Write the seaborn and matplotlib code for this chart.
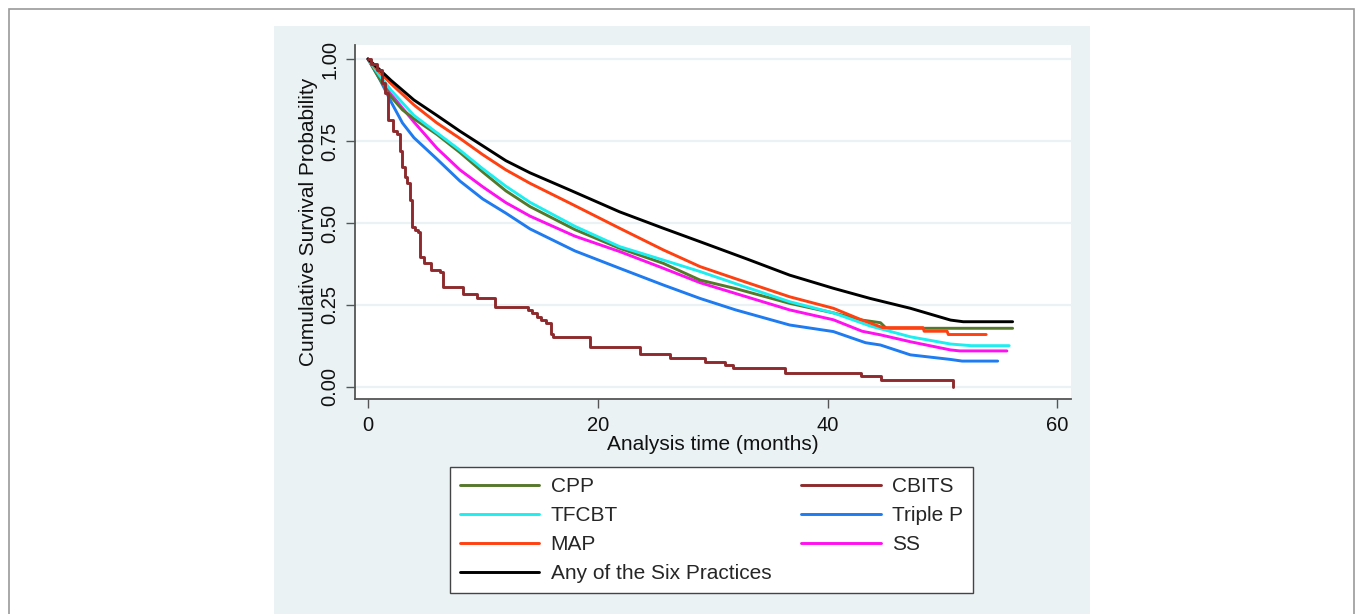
import matplotlib
matplotlib.use('Agg')
import pandas as pd
import matplotlib.pyplot as plt
import seaborn as sns
from matplotlib.lines import Line2D
from matplotlib.patches import Rectangle

# Kaplan-Meier curves (time in months, survival probability)
cpp_t = [0, 1, 2, 3, 4, 6, 8, 10, 12, 14.1, 18, 21.9, 25.7, 28.9, 32, 36.7, 40.5, 43, 44.6, 45.1, 56.1]
cpp_s = [1.0, 0.94, 0.885, 0.845, 0.818, 0.77, 0.715, 0.655, 0.598, 0.55, 0.48, 0.423, 0.377, 0.326, 0.30, 0.255, 0.226, 0.204, 0.196, 0.179, 0.179]

tfcbt_t = [0, 1, 2, 4, 6, 8, 10, 12, 14.1, 18, 21.9, 25.7, 28.9, 32, 36.7, 40.5, 43.7, 47.2, 50.7, 52.5, 55.8]
tfcbt_s = [1.0, 0.95, 0.905, 0.828, 0.775, 0.722, 0.665, 0.612, 0.563, 0.49, 0.428, 0.387, 0.352, 0.315, 0.26, 0.226, 0.186, 0.153, 0.131, 0.126, 0.126]

map_t = [0, 1, 2, 4, 6, 8, 10, 12, 14.1, 17.6, 21.9, 25.7, 28.9, 32, 36.7, 40.5, 43, 44.8, 48.3, 48.4, 50.4, 50.5, 53.8]
map_s = [1.0, 0.96, 0.925, 0.86, 0.805, 0.758, 0.708, 0.662, 0.621, 0.56, 0.484, 0.418, 0.367, 0.33, 0.275, 0.24, 0.204, 0.181, 0.181, 0.17, 0.17, 0.16, 0.16]

any_t = [0, 1, 2, 4, 6, 8, 10, 12, 14.1, 17.6, 21.9, 25.7, 28.9, 33, 36.7, 40.5, 43.7, 47.2, 50.7, 51.8, 56.1]
any_s = [1.0, 0.968, 0.935, 0.875, 0.828, 0.78, 0.735, 0.69, 0.653, 0.60, 0.534, 0.484, 0.443, 0.39, 0.341, 0.301, 0.27, 0.24, 0.204, 0.199, 0.199]

ss_t = [0, 1, 2, 4, 6, 8, 10, 12, 14.1, 18, 21.9, 25.7, 28.9, 32, 36.7, 40.5, 43, 44.6, 47.2, 50.7, 51.5, 55.6]
ss_s = [1.0, 0.95, 0.893, 0.808, 0.728, 0.662, 0.61, 0.562, 0.521, 0.46, 0.413, 0.362, 0.318, 0.285, 0.235, 0.205, 0.17, 0.159, 0.138, 0.113, 0.11, 0.11]

tp_t = [0, 1, 2, 3, 4, 6, 8, 10, 12, 14.1, 18, 21.9, 25.7, 28.9, 32, 36.7, 40.5, 43.3, 44.6, 47.2, 50.7, 51.7, 54.8]
tp_s = [1.0, 0.94, 0.87, 0.805, 0.76, 0.695, 0.628, 0.573, 0.53, 0.482, 0.415, 0.362, 0.311, 0.27, 0.235, 0.189, 0.169, 0.135, 0.128, 0.098, 0.084, 0.079, 0.079]

cbits_t = [0, 0.3, 0.75, 1.2, 1.5, 1.77, 2.2, 2.5, 2.8, 2.93, 3.2, 3.37, 3.65, 3.8, 4.1, 4.38, 4.5, 4.9, 5.5, 6.27,
           6.5, 8.3, 9.45, 11.05, 13.95, 14.3, 14.7, 15.1, 15.5, 15.9, 16.1, 19.3, 23.7, 26.3, 29.3, 31.1, 31.8, 36.3,
           42.9, 44.65, 50.9]
cbits_s = [1.0, 0.985, 0.966, 0.926, 0.895, 0.814, 0.78, 0.77, 0.72, 0.672, 0.64, 0.621, 0.57, 0.489, 0.48, 0.474, 0.397,
           0.377, 0.357, 0.352, 0.306, 0.285, 0.272, 0.245, 0.235, 0.225, 0.214, 0.204, 0.194, 0.163, 0.153, 0.121, 0.1,
           0.089, 0.077, 0.067, 0.057, 0.044, 0.035, 0.021, 0.0]

colors = {
    'CPP': '#55782A',
    'CBITS': '#8E2A2E',
    'TFCBT': '#1EEEF0',
    'Triple P': '#1E7BF0',
    'MAP': '#FF4010',
    'SS': '#FF10F0',
    'Any of the Six Practices': '#000000',
}

# Build long table for the smooth curves
smooth = [('CPP', cpp_t, cpp_s), ('TFCBT', tfcbt_t, tfcbt_s), ('MAP', map_t, map_s),
          ('Triple P', tp_t, tp_s), ('SS', ss_t, ss_s), ('Any of the Six Practices', any_t, any_s)]
frames = [pd.DataFrame({'time': t, 'surv': s, 'group': g}) for g, t, s in smooth]
df = pd.concat(frames, ignore_index=True)
df_cbits = pd.DataFrame({'time': cbits_t, 'surv': cbits_s, 'group': 'CBITS'})

sns.set_theme(style='white')
plt.rcParams['font.family'] = ['Liberation Sans', 'DejaVu Sans']

W, H = 1357, 614
fig = plt.figure(figsize=(W / 100, H / 100), dpi=100, facecolor='white')

# Stata-like graph region background and outer frame
fig.patches.append(Rectangle((274 / W, 0), (1090 - 274) / W, (614 - 26) / H, transform=fig.transFigure,
                             facecolor='#EAF2F3', edgecolor='none', zorder=-10))
fig.patches.append(Rectangle((9 / W, -0.05), (1354 - 9) / W, (614 - 9) / H + 0.05, transform=fig.transFigure,
                             facecolor='none', edgecolor='#9A9A9A', lw=1.2, zorder=-5))

ax = fig.add_axes([355 / W, (614 - 399) / H, (1071 - 355) / W, (399 - 45) / H])
ax.set_facecolor('white')

for g in ['Triple P', 'SS', 'CPP', 'TFCBT', 'MAP', 'Any of the Six Practices']:
    sns.lineplot(data=df[df['group'] == g], x='time', y='surv', color=colors[g], lw=2.1,
                 estimator=None, sort=False, ax=ax, legend=False)
sns.lineplot(data=df_cbits, x='time', y='surv', color=colors['CBITS'], lw=2.1,
             estimator=None, sort=False, drawstyle='steps-post', ax=ax, legend=False)

ax.set_xlim(-1.13, 61.18)
ax.set_ylim(-0.0366, 1.0427)
ax.set_xticks([0, 20, 40, 60])
ax.set_yticks([0, 0.25, 0.5, 0.75, 1.0])
ax.set_yticklabels(['0.00', '0.25', '0.50', '0.75', '1.00'], rotation=90, va='center')
ax.tick_params(axis='both', direction='out', length=6.5, width=1, color='#555555',
               labelsize=14.5, labelcolor='#111111', pad=6, left=True, bottom=True)
ax.tick_params(axis='y', pad=4.5)
for y in [0, 0.25, 0.5, 0.75, 1.0]:
    ax.axhline(y, color='#EAF2F3', lw=1.6, zorder=0)
for side in ['top', 'right']:
    ax.spines[side].set_visible(False)
for side in ['left', 'bottom']:
    ax.spines[side].set_color('#555555')
    ax.spines[side].set_linewidth(1.3)

ax.set_xlabel('Analysis time (months)', fontsize=15, color='#111111', labelpad=0)
ax.set_ylabel('Cumulative Survival Probability', fontsize=15, color='#111111', labelpad=2)

order = ['CPP', 'TFCBT', 'MAP', 'Any of the Six Practices', 'CBITS', 'Triple P', 'SS']
handles = [Line2D([], [], color=colors[k], lw=2.1) for k in order]
leg = fig.legend(handles, order, loc='upper left', mode='expand', ncol=2,
                 bbox_to_anchor=(450 / W, (614 - 592) / H, (973 - 450) / W, (592 - 467) / H),
                 borderaxespad=0, fontsize=15, handlelength=3.8, handletextpad=0.55,
                 labelspacing=0.48, borderpad=0.48, fancybox=False, framealpha=1)
leg.get_frame().set_edgecolor('#444444')
leg.get_frame().set_linewidth(1.0)

fig.savefig('out.png', dpi=100, facecolor='white')
